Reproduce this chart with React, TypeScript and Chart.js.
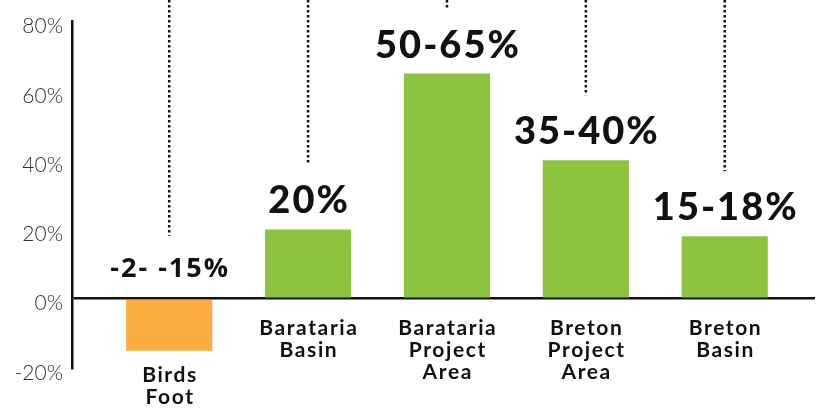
import React, { useEffect, useRef } from "react";
import { Chart, registerables } from "chart.js";

Chart.register(...registerables);

const categories: string[][] = [
  ["Birds", "Foot"],
  ["Barataria", "Basin"],
  ["Barataria", "Project", "Area"],
  ["Breton", "Project", "Area"],
  ["Breton", "Basin"],
];
const values: number[] = [-15, 20, 65, 40, 18];
const rangeLabels: string[] = ["-2- -15%", "20%", "50-65%", "35-40%", "15-18%"];
const yTicks: number[] = [-20, 0, 20, 40, 60, 80];

const GREEN = "#8CC43F";
const ORANGE = "#FBAE3F";

const annotate = {
  id: "annotate",
  afterDatasetsDraw(chart: any) {
    const ctx = chart.ctx as CanvasRenderingContext2D;
    const meta = chart.getDatasetMeta(0);
    const zeroY = chart.scales.y.getPixelForValue(0);
    ctx.save();
    meta.data.forEach((bar: any, i: number) => {
      const { x, y } = bar.getProps(["x", "y"], true);
      const v = values[i];
      let baseline: number;
      let capH: number;
      if (v >= 0) {
        ctx.font = "900 38px Lato";
        (ctx as any).letterSpacing = "2px";
        capH = 27;
        baseline = y - 16;
      } else {
        ctx.font = "bold 27px 'Open Sans'";
        (ctx as any).letterSpacing = "2px";
        capH = 19;
        baseline = zeroY - 22;
      }
      ctx.fillStyle = "#111";
      ctx.textAlign = "center";
      ctx.textBaseline = "alphabetic";
      ctx.fillText(rangeLabels[i], x + 1, baseline);
      const lineEnd = baseline - capH - 22;
      ctx.save();
      ctx.strokeStyle = "#111";
      ctx.lineWidth = 2.5;
      ctx.setLineDash([2.5, 2.5]);
      ctx.beginPath();
      ctx.moveTo(x, 0);
      ctx.lineTo(x, lineEnd);
      ctx.stroke();
      ctx.restore();
      ctx.font = "bold 21px Lato";
      (ctx as any).letterSpacing = "1.6px";
      ctx.textBaseline = "middle";
      const startY = v >= 0 ? zeroY + 30 : y + 25;
      categories[i].forEach((line, j) => {
        ctx.fillText(line, x + 0.8, startY + j * 22);
      });
    });
    ctx.restore();
  },
};

export default function App() {
  const ref = useRef<HTMLCanvasElement | null>(null);
  useEffect(() => {
    if (!ref.current) return;
    const chart = new Chart(ref.current, {
      type: "bar",
      data: {
        datasets: [
          {
            data: values.map((v, i) => ({ x: i, y: v })),
            backgroundColor: values.map((v) => (v < 0 ? ORANGE : GREEN)),
            borderWidth: 0,
            barPercentage: 0.62,
            categoryPercentage: 1,
          },
        ],
      },
      options: {
        responsive: false,
        animation: false,
        datasets: { bar: { barPercentage: 0.62, categoryPercentage: 1 } } as any,
        layout: { padding: { top: 18, bottom: 40, left: 0, right: 12 } },
        plugins: { legend: { display: false }, tooltip: { enabled: false } },
        scales: {
          x: {
            type: "linear",
            display: false,
            offset: false,
            min: -0.7,
            max: 4.65,
            afterBuildTicks: (scale: any) => {
              scale.ticks = values.map((_, i) => ({ value: i }));
            },
          },
          y: {
            min: yTicks[0],
            max: yTicks[yTicks.length - 1],
            afterFit: (scale: any) => {
              scale.width = 72;
            },
            afterBuildTicks: (scale: any) => {
              scale.ticks = yTicks.map((v) => ({ value: v }));
            },
            ticks: {
              padding: 9,
              labelOffset: 5,
              color: "#333",
              font: { family: "Lato", size: 21, weight: "300" as any },
              callback: (v: any) => v + "%",
            },
            grid: {
              drawTicks: false,
              lineWidth: 2.5,
              color: (c: any) => (c.tick && c.tick.value === 0 ? "#111" : "rgba(0,0,0,0)"),
            },
            border: { display: true, color: "#111", width: 2.5 },
          },
        },
      },
      plugins: [annotate],
    });
    return () => chart.destroy();
  }, []);
  return (
    <div style={{ position: "fixed", left: 0, top: 0, width: 827, height: 408, background: "#fff" }}>
      <canvas ref={ref} width={827} height={408} style={{ display: "block" }} />
    </div>
  );
}
